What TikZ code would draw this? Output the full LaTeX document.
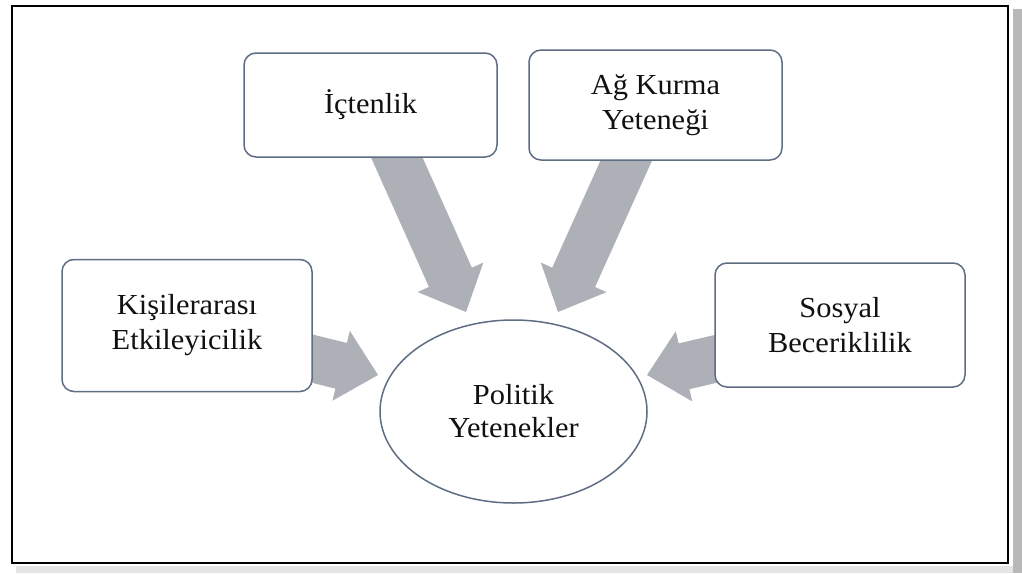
\documentclass[tikz,border=0pt]{standalone}
\usepackage{fontspec}
\setmainfont[FakeStretch=1.05]{Liberation Serif}
\usetikzlibrary{calc,shapes.geometric}

\definecolor{boxline}{HTML}{5E6D82}
\definecolor{arrowgrey}{HTML}{ADB0B7}
\definecolor{inktext}{HTML}{111111}

% block arrow dimensions
\newcommand\arwShaft{23.5pt}
\newcommand\arwHead{36pt}
\newcommand\arwLen{38pt}

% \blockarrow{start}{tip}: a thick grey arrow polygon
\newcommand\blockarrow[2]{%
  \coordinate (#2-base) at ($(#2)!\arwLen!(#1)$);
  \fill[arrowgrey]
    ($(#1)!\arwShaft!90:(#2)$) --
    ($(#2-base)!\arwShaft!90:(#2)$) --
    ($(#2-base)!\arwHead!90:(#2)$) --
    (#2) --
    ($(#2-base)!\arwHead!-90:(#2)$) --
    ($(#2-base)!\arwShaft!-90:(#2)$) --
    ($(#1)!\arwShaft!-90:(#2)$) -- cycle;}

\tikzset{
  skillbox/.style={draw=boxline, line width=1.5pt, fill=white, rounded corners=12pt,
    align=center, text=inktext, font=\fontsize{29}{35}\selectfont, inner sep=0pt},
  centreoval/.style={draw=boxline, line width=1.5pt, fill=white, ellipse,
    align=center, text=inktext, font=\fontsize{29}{33}\selectfont, inner sep=0pt},
}

\begin{document}
\begin{tikzpicture}[x=1pt, y=-1pt]
\useasboundingbox (0,0) rectangle (1022,573);
\fill[white] (0,0) rectangle (1022,573);

% outer frame with its shadow
\fill[black!28] (1013,9) rectangle (1022,573);
\fill[black!10] (16,566) rectangle (1013,573);
\draw[black, line width=2.2pt] (12,6) rectangle (1008,563);

% arrow start (inside boxes) and tip points
\coordinate (icS) at (390.4,143.3);
\coordinate (icT) at (466,312);
\coordinate (agS) at (632.7,146.3);
\coordinate (agT) at (558,312);
\coordinate (kiS) at (297.4,354.9);
\coordinate (kiT) at (378,375);
\coordinate (soS) at (729.6,355.6);
\coordinate (soT) at (647,375);

\blockarrow{icS}{icT}
\blockarrow{agS}{agT}
\blockarrow{kiS}{kiT}
\blockarrow{soS}{soT}

% skill boxes
\node[skillbox, minimum width=253pt, minimum height=104pt] (ic) at (370.5,105) {İçtenlik};
\node[skillbox, minimum width=253pt, minimum height=110pt] (ag) at (655.5,105) {Ağ Kurma\\Yeteneği};
\node[skillbox, minimum width=250pt, minimum height=132pt] (ki) at (187,325.5) {Kişilerarası\\Etkileyicilik};
\node[skillbox, minimum width=250pt, minimum height=124pt] (so) at (840,325) {Sosyal\\Beceriklilik};

% centre
\node[centreoval, minimum width=267pt, minimum height=183pt] (pol) at (513.5,411.5) {Politik\\Yetenekler};
\end{tikzpicture}
\end{document}
